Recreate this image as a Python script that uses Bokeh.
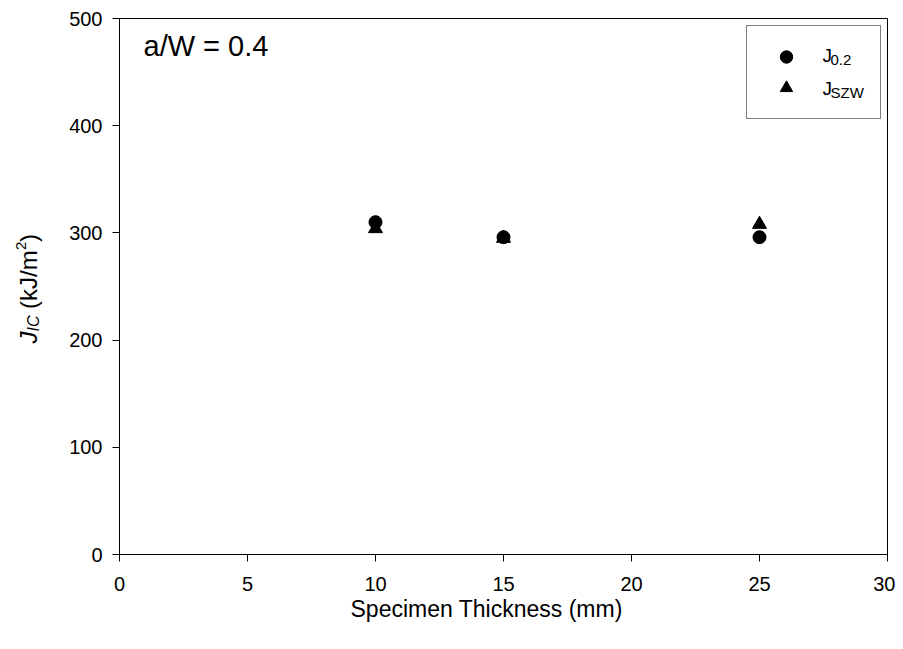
import math
from bokeh.plotting import figure
from bokeh.layouts import row
from bokeh.models import Range1d, FixedTicker, Label, Legend, LegendItem, Title
from bokeh.embed import file_html
from bokeh.resources import INLINE

# ---- data ----
thickness = [10, 15, 25]
j02 = [310, 296, 296]
jszw = [304, 295, 308]
x_ticks = [0, 5, 10, 15, 20, 25, 30]
y_ticks = [0, 100, 200, 300, 400, 500]
x_label = "Specimen Thickness (mm)"
title_text = "a/W = 0.4"

FONT = "Liberation Sans"
LW = 60          # width of the strip that carries the y-axis title
H = 641

p = figure(width=895 - LW, height=H, output_backend="svg", toolbar_location=None,
           x_range=Range1d(0, 30), y_range=Range1d(0, 500),
           min_border_left=119 - LW, min_border_right=8, min_border_top=18,
           min_border_bottom=87)
p.background_fill_color = "white"
p.border_fill_color = "white"
p.outline_line_color = "black"
p.outline_line_width = 1
p.outline_line_alpha = 1
p.grid.visible = False

for ax in (p.xaxis[0], p.yaxis[0]):
    ax.major_tick_in = 0
    ax.major_tick_out = 7
    ax.minor_tick_in = 0
    ax.minor_tick_out = 0
    ax.axis_line_color = "black"
    ax.major_tick_line_color = "black"
    ax.major_label_text_font = FONT
    ax.major_label_text_font_size = "20px"
    ax.major_label_text_color = "black"

p.xaxis.ticker = FixedTicker(ticks=x_ticks)
p.yaxis.ticker = FixedTicker(ticks=y_ticks)
p.xaxis.major_label_standoff = 15
p.yaxis.major_label_standoff = 10

xt = Title(text=x_label, align="left", offset=231, standoff=0,
           text_font=FONT, text_font_size="23px", text_font_style="normal",
           text_color="black")
p.add_layout(xt, "below")

rt = p.scatter(thickness, jszw, marker="triangle", size=14, color="black")
rc = p.scatter(thickness, j02, marker="circle", size=13, color="black")

legend = Legend(items=[LegendItem(label=" ", renderers=[rc]),
                       LegendItem(label=" ", renderers=[rt])],
                location=(627, 435), padding=15, spacing=0, margin=0,
                glyph_width=48, glyph_height=31, label_standoff=13,
                label_width=42, label_height=31, label_text_font_size="1px",
                border_line_color="black", border_line_width=1,
                background_fill_color="white", background_fill_alpha=0)
p.add_layout(legend, "center")


def lab(fig, text, x, y, size, style="normal", angle=0.0):
    fig.add_layout(Label(x=x, y=y, x_units="screen", y_units="screen", text=text,
                         text_font=FONT, text_font_size=f"{size}px",
                         text_font_style=style, text_color="black",
                         text_align="left", text_baseline="alphabetic",
                         angle=angle, level="overlay"))

# title inside the frame
lab(p, title_text, 24, 509, 29)

# legend texts
lab(p, "J", 703, 499, 19)
lab(p, "0.2", 711, 495, 15)
lab(p, "J", 703, 466, 19)
lab(p, "SZW", 711, 462, 15)

# strip for the rotated y-axis title (its frame is aligned with the main frame)
yl = figure(width=LW, height=H, output_backend="svg", toolbar_location=None,
            x_range=Range1d(0, LW), y_range=Range1d(0, H),
            x_axis_location=None, y_axis_location=None,
            min_border_left=0, min_border_right=0, min_border_top=0,
            min_border_bottom=0)
yl.grid.visible = False
yl.outline_line_color = None
yl.background_fill_color = "white"
yl.border_fill_color = "white"

a = math.pi / 2
bx = 28
y0 = 211
lab(yl, "J", bx, y0, 24, "italic", a)
lab(yl, "IC", bx + 5, y0 + 12, 16, "italic", a)
lab(yl, "(kJ/m", bx, y0 + 34.5, 24, "normal", a)
lab(yl, "2", bx - 8, y0 + 93.5, 15, "normal", a)
lab(yl, ")", bx, y0 + 101.5, 24, "normal", a)

layout = row(yl, p)
open("out.html", "w").write(file_html(layout, INLINE))
